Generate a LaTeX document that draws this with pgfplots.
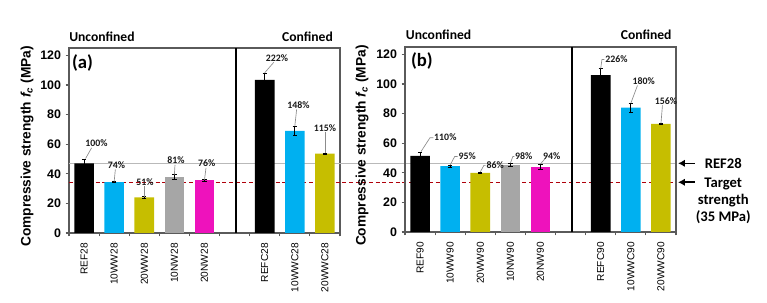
\documentclass[border=0pt]{standalone}
\usepackage{pgfplots}
\pgfplotsset{compat=1.18}
\usetikzlibrary{arrows.meta}
\usepackage{fontspec}
\setmainfont{Liberation Sans}
\newfontfamily\calibri{Carlito}
\definecolor{cblue}{RGB}{0,176,240}
\definecolor{colive}{RGB}{198,190,0}
\definecolor{cgray}{RGB}{166,166,166}
\definecolor{cmag}{RGB}{238,18,188}
\definecolor{refline}{RGB}{185,185,185}
\definecolor{tred}{RGB}{176,0,10}
\definecolor{frame}{RGB}{90,90,90}
\pgfplotsset{
  panel/.style={
    scale only axis, width=203.25pt, height=138.75pt,
    xmin=-0.5, xmax=8.5, ymin=0, ymax=125,
    ytick={0,20,...,120}, xtick={0,1,2,3,4,6,7,8},
    minor xtick={-0.5,0.5,...,8.5},
    major x tick style={draw=none},
    tick align=outside, major tick length=2.5pt, minor tick length=2.5pt,
    xtick pos=bottom, ytick pos=left,
    axis line style={draw=frame, line width=0.8pt},
    tick style={frame, line width=0.8pt},
    /pgf/number format/assume math mode=true,
    yticklabel style={font=\bfseries\fontsize{9.3}{10}\selectfont},
    xticklabel style={font=\fontsize{7.6}{8}\selectfont, rotate=90, anchor=east, inner sep=0pt},
    xticklabel shift=5pt,
    clip=false,
  },
  bar/.style={ybar, bar width=0.65, bar shift=0pt, fill=#1, draw=none,
    error bars/.cd, y dir=both, y explicit,
    error bar style={black, line width=0.6pt},
    error mark options={rotate=90, mark size=1.6pt, black, line width=0.6pt}},
}
\tikzset{
  pct/.style={font=\calibri\bfseries\fontsize{7.4}{8}\selectfont, text=black!90, inner sep=0.5pt},
  lead/.style={draw=black!45, line width=0.5pt},
  head/.style={font=\calibri\bfseries\fontsize{10.2}{12}\selectfont, inner sep=0pt},
}
\begin{document}
\begin{tikzpicture}
% ---------------- panel (a)
\begin{axis}[panel, at={(51.75pt,52.5pt)}, anchor=south west,
  xticklabels={REF28,10WW28,20WW28,10NW28,20NW28,REFC28,10WWC28,20WWC28}]
\addplot[refline, line width=0.8pt] coordinates {(-0.5,47) (19.7,47)};
\addplot[tred, line width=1pt, dash pattern=on 3pt off 2pt] coordinates {(-0.5,34.3) (19.7,34.3)};
\addplot[bar=black] coordinates {(0,47) +- (0,3) (6,103.5) +- (0,4.5)};
\addplot[bar=cblue] coordinates {(1,34.3) +- (0,0.4) (7,69) +- (0,3)};
\addplot[bar=colive] coordinates {(2,24) +- (0,0.5) (8,53.7) +- (0,0.4)};
\addplot[bar=cgray] coordinates {(3,38) +- (0,1.5)};
\addplot[bar=cmag] coordinates {(4,35.5) +- (0,0.5)};
\draw[black, line width=1pt] (axis cs:5.05,0) -- (axis cs:5.05,125);
% leaders and percentages
\draw[lead] (axis cs:0.05,50.3) -- (axis cs:0.25,57.5);
\node[pct] at (axis cs:0.41,60.5) {100\%};
\draw[lead] (axis cs:1.0,34.8) -- (axis cs:1.04,43);
\node[pct] at (axis cs:1.08,46) {74\%};
\draw[lead] (axis cs:2.0,24.5) -- (axis cs:2.0,31.8);
\node[pct] at (axis cs:2.02,34.7) {51\%};
\draw[lead] (axis cs:3.0,39.5) -- (axis cs:3.02,46);
\node[pct] at (axis cs:3.05,48.9) {81\%};
\draw[lead] (axis cs:4.0,36) -- (axis cs:4.05,44);
\node[pct] at (axis cs:4.07,47) {76\%};
\draw[lead] (axis cs:6.0,108.3) -- (axis cs:6.3,115.3);
\node[pct] at (axis cs:6.41,118.4) {222\%};
\draw[lead] (axis cs:7.0,72.3) -- (axis cs:7.06,83.5);
\node[pct] at (axis cs:7.12,86.5) {148\%};
\draw[lead] (axis cs:8.0,54.2) -- (axis cs:8.0,68);
\node[pct] at (axis cs:8.0,71) {115\%};
\node[font=\calibri\bfseries\fontsize{14}{16}\selectfont] at (axis cs:-0.05,114.9) {(a)};
\node[head, anchor=west] at (axis cs:-0.5,132.6) {Unconfined};
\node[head, anchor=east] at (axis cs:8.27,132.6) {Confined};
\end{axis}
% ---------------- panel (b)
\begin{axis}[panel, at={(303.75pt,53.25pt)}, anchor=south west,
  xticklabels={REF90,10WW90,20WW90,10NW90,20NW90,REFC90,10WWC90,20WWC90}]
\addplot[bar=black] coordinates {(0,51.5) +- (0,2.5) (6,106) +- (0,4.5)};
\addplot[bar=cblue] coordinates {(1,44.5) +- (0,0.7) (7,84) +- (0,3)};
\addplot[bar=colive] coordinates {(2,40) +- (0,0.6) (8,73) +- (0,0.4)};
\addplot[bar=cgray] coordinates {(3,45.5) +- (0,1)};
\addplot[bar=cmag] coordinates {(4,44) +- (0,2)};
\draw[black, line width=1pt] (axis cs:5.05,0) -- (axis cs:5.05,125);
\draw[lead] (axis cs:0.03,54.3) -- (axis cs:0.33,63.7) -- (axis cs:0.44,63.7);
\node[pct, anchor=west] at (axis cs:0.44,64.4) {110\%};
\draw[lead] (axis cs:1.0,45.3) -- (axis cs:1.15,51) -- (axis cs:1.25,51);
\node[pct, anchor=west] at (axis cs:1.25,51.4) {95\%};
\draw[lead] (axis cs:2.0,40.6) -- (axis cs:2.12,45) -- (axis cs:2.18,45);
\node[pct, anchor=west] at (axis cs:2.18,45.3) {86\%};
\draw[lead] (axis cs:3.0,46.5) -- (axis cs:3.08,51) -- (axis cs:3.13,51);
\node[pct, anchor=west] at (axis cs:3.13,51.4) {98\%};
\draw[lead] (axis cs:4.0,46) -- (axis cs:4.15,49.5);
\node[pct] at (axis cs:4.37,51.4) {94\%};
\draw[lead] (axis cs:6.0,110.5) -- (axis cs:6.04,116.5) -- (axis cs:6.12,116.5);
\node[pct, anchor=west] at (axis cs:6.12,116.8) {226\%};
\draw[lead] (axis cs:7.0,87) -- (axis cs:7.22,99);
\node[pct] at (axis cs:7.43,101.6) {180\%};
\draw[lead] (axis cs:8.0,73.4) -- (axis cs:8.05,85.5);
\node[pct] at (axis cs:8.17,88.5) {156\%};
\node[font=\calibri\bfseries\fontsize{14}{16}\selectfont] at (axis cs:0.06,115.5) {(b)};
\node[head, anchor=west] at (axis cs:-0.48,133.2) {Unconfined};
\node[head, anchor=east] at (axis cs:8.36,133.2) {Confined};
% right annotations
\draw[-{Latex[length=5pt,width=5.5pt]}, line width=1.2pt] (axis cs:9.13,46.4) -- (axis cs:8.57,46.4);
\draw[-{Latex[length=5pt,width=5.5pt]}, line width=1.2pt] (axis cs:9.13,33.6) -- (axis cs:8.57,33.6);
\node[font=\calibri\bfseries\fontsize{11}{12.75}\selectfont] at (axis cs:10.07,46.6) {REF28};
\node[align=center, anchor=north, inner sep=0pt, font=\calibri\bfseries\fontsize{11}{12.75}\selectfont] at (axis cs:10.07,36.5) {Target\\strength\\(35 MPa)};
\end{axis}
\node[rotate=90, font=\bfseries\fontsize{10.3}{12}\selectfont] at (20.25pt,117.4pt) {Compressive strength {\itshape f}\textsubscript{\itshape c} (MPa)};
\node[rotate=90, font=\bfseries\fontsize{10.3}{12}\selectfont] at (271.5pt,118pt) {Compressive strength {\itshape f}\textsubscript{\itshape c} (MPa)};
\pgfresetboundingbox
\path[use as bounding box] (0,0) rectangle (575.25pt,227.25pt);
\end{tikzpicture}
\end{document}
